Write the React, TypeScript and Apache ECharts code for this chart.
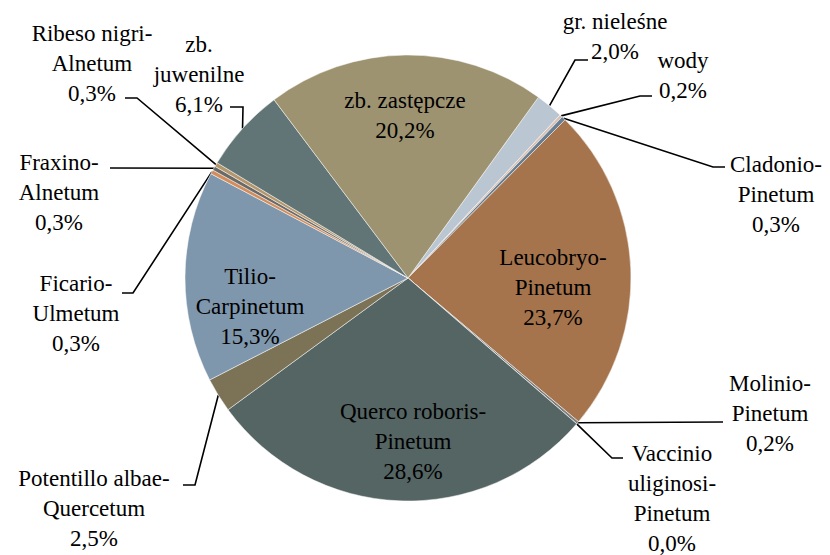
import React, { useEffect, useRef } from "react";
import * as echarts from "echarts";

// Categories (with the line breaks used in the labels)
const categories = [
  "gr. nieleśne",
  "wody",
  "Cladonio-\nPinetum",
  "Leucobryo-\nPinetum",
  "Molinio-\nPinetum",
  "Vaccinio\nuliginosi-\nPinetum",
  "Querco roboris-\nPinetum",
  "Potentillo albae-\nQuercetum",
  "Tilio-\nCarpinetum",
  "Ficario-\nUlmetum",
  "Fraxino-\nAlnetum",
  "Ribeso nigri-\nAlnetum",
  "zb.\njuwenilne",
  "zb. zastępcze",
];

// Share of area, %
const values = [2.0, 0.2, 0.3, 23.7, 0.2, 0.0, 28.6, 2.5, 15.3, 0.3, 0.3, 0.3, 6.1, 20.2];

const colors = [
  "#bac6d1",
  "#dcc0b2",
  "#687e92",
  "#a5744d",
  "#7f7f7f",
  "#5a6b6a",
  "#546564",
  "#7c7256",
  "#7f97ad",
  "#d38d5c",
  "#6b6a66",
  "#b3966c",
  "#627576",
  "#9d9370",
];

// Label placement (style): block centre, and leader line elbow/end points
const labelInside = [false, false, false, true, false, false, true, false, true, false, false, false, false, true];
const labelPos: number[][] = [
  [615, 36],
  [683, 75],
  [776, 194],
  [553, 287],
  [770, 413],
  [672, 498],
  [413, 441],
  [94, 508],
  [250, 306],
  [76, 313],
  [59, 192],
  [92, 63],
  [199, 74],
  [405, 115],
];
const lineVia: number[][][] = [
  [[575, 60], [588, 60]],
  [[640, 96], [652, 96]],
  [[713, 167], [725, 167]],
  [],
  [[723, 422]],
  [[612, 458], [623, 458]],
  [],
  [[195, 485], [183, 485]],
  [],
  [[133, 293], [122, 293]],
  [[110, 168]],
  [[137, 98], [125, 98]],
  [[243, 107], [230, 107]],
  [],
];

const fmt = (v: number) => Number(v).toFixed(1).split(".").join(",") + "%";

export default function App() {
  const ref = useRef<HTMLDivElement>(null);

  useEffect(() => {
    if (!ref.current) return;
    const chart = echarts.init(ref.current, null, { renderer: "svg" });
    const data = categories.map((name, i) => ({
      name,
      value: values[i],
      itemStyle: { color: colors[i] },
      label: { position: labelInside[i] ? "inside" : "outside" },
      labelLine: { show: !labelInside[i] },
    }));
    chart.setOption({
      animation: false,
      backgroundColor: "#ffffff",
      series: [
        {
          type: "pie",
          center: [408, 278],
          radius: 223,
          startAngle: 54.2,
          clockwise: true,
          avoidLabelOverlap: false,
          data,
          itemStyle: { borderColor: "#ffffff", borderWidth: 0.5 },
          label: {
            show: true,
            color: "#000000",
            fontFamily: "Liberation Serif",
            fontSize: 23,
            lineHeight: 30,
            align: "center",
            formatter: (p: any) => p.name + "\n" + fmt(p.value),
          },
          labelLine: {
            show: true,
            lineStyle: { color: "#000000", width: 1.6 },
          },
          emphasis: { disabled: true },
          labelLayout: (params: any) => {
            const i = params.dataIndex;
            const pos = labelPos[i];
            const res: any = {
              x: pos[0],
              y: pos[1],
              align: "center",
              verticalAlign: "middle",
            };
            const pts = params.labelLinePoints;
            if (!labelInside[i] && pts && pts.length) {
              res.labelLinePoints = [[pts[0][0], pts[0][1]], ...lineVia[i].map((p) => [p[0], p[1]])];
            }
            return res;
          },
        },
      ],
    });
    return () => chart.dispose();
  }, []);

  return (
    <div
      ref={ref}
      style={{ position: "fixed", left: 0, top: 0, width: 830, height: 555 }}
    />
  );
}
